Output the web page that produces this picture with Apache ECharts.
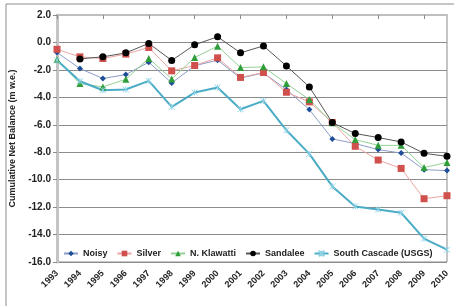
<!DOCTYPE html>
<html>
<head>
<meta charset="utf-8">
<script src="https://cdn.jsdelivr.net/npm/echarts@6/dist/echarts.min.js"></script>
<style>
html, body { margin: 0; padding: 0; background: #fff; }
#chart { width: 454px; height: 306px; }
</style>
</head>
<body>
<div id="chart"></div>
<script>
// years on the x axis
var years = ['1993', '1994', '1995', '1996', '1997', '1998', '1999', '2000', '2001',
	'2002', '2003', '2004', '2005', '2006', '2007', '2008', '2009', '2010'];

// cumulative net balance, m w.e.
var noisy = [-0.73, -1.9, -2.63, -2.34, -1.44, -2.95, -1.7, -1.29, -2.6,
	-2.22, -3.43, -4.89, -7.03, -7.37, -7.81, -8.06, -9.27, -9.34];
var silver = [-0.5, -1.05, -1.17, -0.85, -0.37, -2.07, -1.68, -1.12, -2.55,
	-2.19, -3.63, -4.33, -5.84, -7.57, -8.57, -9.18, -11.39, -11.17];
var klawatti = [-1.24, -3.0, -3.24, -2.68, -1.17, -2.66, -1.1, -0.27, -1.83,
	-1.78, -3.0, -4.16, -5.86, -7.08, -7.5, -7.5, -9.12, -8.74];
var sandalee = [null, -1.2, -1.05, -0.76, -0.07, -1.31, -0.17, 0.41, -0.76,
	-0.25, -1.71, -3.24, -5.84, -6.64, -6.93, -7.25, -8.08, -8.3];
var southCascade = [-1.3, -2.83, -3.48, -3.43, -2.8, -4.7, -3.65, -3.28, -4.87,
	-4.26, -6.4, -8.12, -10.49, -11.95, -12.17, -12.41, -14.3, -15.1];

var font = '"Liberation Sans", Arial, sans-serif';
var star = 'path://M0,0L10,10M10,0L0,10M5,0L5,10';

var chart = echarts.init(document.getElementById('chart'));

chart.setOption({
	animation: false,
	graphic: [{
		type: 'rect',
		shape: { x: 6, y: 4, width: 460, height: 320 },
		style: { fill: 'none', stroke: '#8c8c8c', lineWidth: 1 },
		silent: true
	}],
	grid: {
		left: 57,
		right: 7,
		top: 15,
		bottom: 44,
		show: true,
		borderColor: '#8c8c8c',
		borderWidth: 1
	},
	legend: {
		left: 58,
		top: 244,
		itemWidth: 14,
		itemHeight: 7,
		itemGap: 9,
		textStyle: { fontFamily: font, fontWeight: 'bold', fontSize: 9, color: '#222' },
		data: ['Noisy', 'Silver', 'N. Klawatti', 'Sandalee', 'South Cascade (USGS)']
	},
	xAxis: [{
		type: 'category',
		data: years,
		boundaryGap: false,
		axisLine: { show: false },
		axisTick: { show: false },
		splitLine: { show: false },
		axisLabel: {
			rotate: 45,
			margin: 10,
			fontFamily: font,
			fontWeight: 'bold',
			fontSize: 9,
			color: '#222'
		}
	}, {
		type: 'category',
		data: years,
		boundaryGap: false,
		position: 'top',
		axisLine: { show: true, onZero: true, lineStyle: { color: '#bfbfbf', width: 2 } },
		axisTick: { show: true, inside: true, length: 4, lineStyle: { color: '#8c8c8c' } },
		axisLabel: { show: false },
		splitLine: { show: false }
	}],
	yAxis: {
		type: 'value',
		min: -16,
		max: 2,
		interval: 2,
		name: 'Cumulative Net Balance (m w.e.)',
		nameLocation: 'middle',
		nameRotate: 90,
		nameGap: 31,
		nameTextStyle: { fontFamily: font, fontWeight: 'bold', fontSize: 9, color: '#222' },
		axisLine: { show: true, lineStyle: { color: '#c4c4c4', width: 3 } },
		axisTick: { show: true, length: 4, lineStyle: { color: '#8c8c8c' } },
		axisLabel: {
			fontFamily: font,
			fontWeight: 'bold',
			fontSize: 10,
			color: '#222',
			margin: 6,
			formatter: function (v) { return v.toFixed(1); }
		},
		splitLine: { lineStyle: { color: '#8c8c8c', width: 1 } }
	},
	series: [{
		name: 'Noisy',
		type: 'line',
		data: noisy,
		symbol: 'diamond',
		symbolSize: 6,
		itemStyle: { color: '#1f4e99' },
		lineStyle: { color: '#8a9cc6', width: 1 }
	}, {
		name: 'Silver',
		type: 'line',
		data: silver,
		symbol: 'rect',
		symbolSize: 7,
		itemStyle: { color: '#d0504e' },
		lineStyle: { color: '#eba4a2', width: 1 }
	}, {
		name: 'N. Klawatti',
		type: 'line',
		data: klawatti,
		symbol: 'triangle',
		symbolSize: 7,
		itemStyle: { color: '#2f9e3a' },
		lineStyle: { color: '#93d193', width: 1 }
	}, {
		name: 'Sandalee',
		type: 'line',
		data: sandalee,
		symbol: 'circle',
		symbolSize: 7,
		itemStyle: { color: '#000' },
		lineStyle: { color: '#555', width: 1 }
	}, {
		name: 'South Cascade (USGS)',
		type: 'line',
		data: southCascade,
		symbol: star,
		symbolSize: 6,
		itemStyle: { color: '#4bacc6', borderColor: '#8fd3e6', borderWidth: 1 },
		lineStyle: { color: '#4bacc6', width: 2 }
	}]
});
</script>
</body>
</html>
